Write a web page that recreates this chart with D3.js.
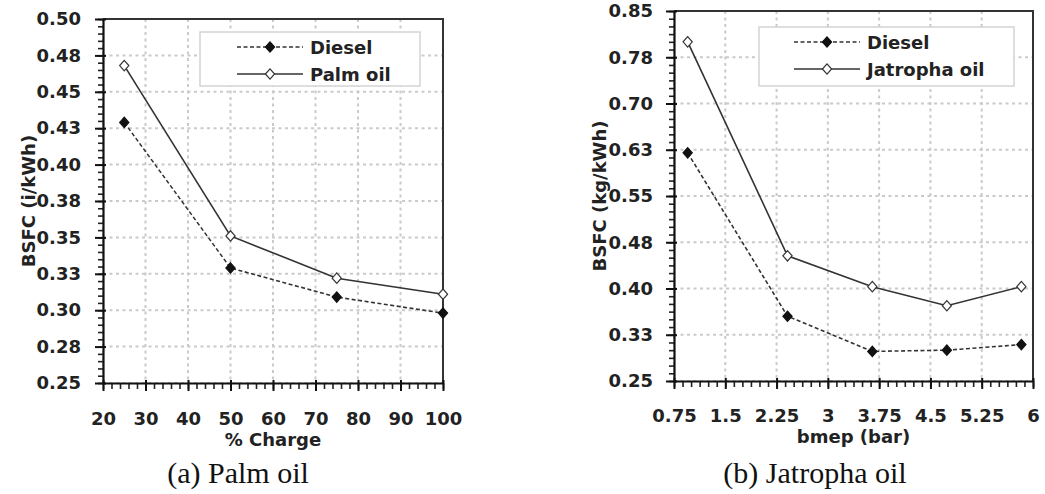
<!DOCTYPE html>
<html>
<head>
<meta charset="utf-8">
<script src="https://cdn.jsdelivr.net/npm/d3@7"></script>
<style>
  html, body { margin: 0; padding: 0; background: #fff; }
  svg { display: block; }
  .tick text { font-family: "DejaVu Sans", sans-serif; font-weight: bold; font-size: 18px; fill: #222; }
</style>
</head>
<body>
<svg id="chart" width="1045" height="494"></svg>
<script>
// ---------- Data ----------
const palmLoad = [25, 50, 75, 100];
const palmDieselBSFC = [0.429, 0.329, 0.309, 0.298];
const palmOilBSFC = [0.468, 0.351, 0.322, 0.311];

const jatBmep = [0.95, 2.41, 3.65, 4.74, 5.83];
const jatDieselBSFC = [0.620, 0.355, 0.298, 0.300, 0.309];
const jatOilBSFC = [0.800, 0.453, 0.403, 0.372, 0.403];

const palmXTicks = [20, 30, 40, 50, 60, 70, 80, 90, 100];
const palmYTicks = [0.25, 0.275, 0.30, 0.325, 0.35, 0.375, 0.40, 0.425, 0.45, 0.475, 0.50];
const palmYLabels = ["0.25", "0.28", "0.30", "0.33", "0.35", "0.38", "0.40", "0.43", "0.45", "0.48", "0.50"];

const jatXTicks = [0.75, 1.5, 2.25, 3, 3.75, 4.5, 5.25, 6];
const jatXLabels = ["0.75", "1.5", "2.25", "3", "3.75", "4.5", "5.25", "6"];
const jatYTicks = [0.25, 0.325, 0.40, 0.475, 0.55, 0.625, 0.70, 0.775, 0.85];
const jatYLabels = ["0.25", "0.33", "0.40", "0.48", "0.55", "0.63", "0.70", "0.78", "0.85"];

const svg = d3.select("#chart");
const FONT = "DejaVu Sans, sans-serif";

function diamond(g, cx, cy, filled) {
  g.append("path")
    .attr("d", "M0,-5.2L4.6,0L0,5.2L-4.6,0Z")
    .attr("transform", `translate(${cx},${cy})`)
    .attr("fill", filled ? "#111" : "#fff")
    .attr("stroke", filled ? "#111" : "#333")
    .attr("stroke-width", 1.2);
}

function drawPanel(cfg) {
  const { x0, x1, y0, y1 } = cfg;
  const x = d3.scaleLinear().domain(cfg.xDomain).range([x0, x1]);
  const y = d3.scaleLinear().domain(cfg.yDomain).range([y1, y0]);
  const g = svg.append("g");

  // grid
  const grid = g.append("g")
    .attr("stroke", "#cacaca").attr("stroke-width", 2).attr("stroke-dasharray", "3,3.5");
  cfg.yTicks.forEach(v => grid.append("line")
    .attr("x1", x0).attr("x2", x1).attr("y1", y(v)).attr("y2", y(v)));
  cfg.xTicks.forEach(v => grid.append("line")
    .attr("x1", x(v)).attr("x2", x(v)).attr("y1", y0).attr("y2", y1));

  // border top/right
  g.append("path")
    .attr("d", `M${x0},${y0}H${x1}V${y1}`)
    .attr("fill", "none").attr("stroke", "#333").attr("stroke-width", 2);

  // minor ticks
  g.append("g").attr("transform", `translate(${x0},0)`)
    .call(d3.axisLeft(y).tickValues(cfg.yMinor).tickSize(5).tickFormat(""))
    .call(s => s.select(".domain").remove())
    .selectAll("line").attr("stroke", "#222").attr("stroke-width", 1.6);
  g.append("g").attr("transform", `translate(0,${y1})`)
    .call(d3.axisBottom(x).tickValues(cfg.xMinor).tickSize(6).tickFormat(""))
    .call(s => s.select(".domain").remove())
    .selectAll("line").attr("stroke", "#222").attr("stroke-width", 1.6);

  // major y axis
  const ya = g.append("g").attr("transform", `translate(${x0},0)`)
    .call(d3.axisLeft(y).tickValues(cfg.yTicks).tickSizeInner(8).tickSizeOuter(0)
      .tickPadding(cfg.yPad).tickFormat((d, i) => cfg.yLabels[i]));
  ya.select(".domain").attr("stroke", "#111").attr("stroke-width", 2.2);
  ya.selectAll(".tick line").attr("x1", 3).attr("stroke", "#111").attr("stroke-width", 2);
  ya.selectAll(".tick text").attr("font-family", FONT);

  // major x axis
  const xa = g.append("g").attr("transform", `translate(0,${y1})`)
    .call(d3.axisBottom(x).tickValues(cfg.xTicks).tickSizeInner(8).tickSizeOuter(0)
      .tickPadding(cfg.xPad).tickFormat((d, i) => cfg.xLabels[i]));
  xa.select(".domain").attr("stroke", "#111").attr("stroke-width", 2.2);
  xa.selectAll(".tick line").attr("y1", -3).attr("stroke", "#111").attr("stroke-width", 2);

  // series
  const line = d3.line().x(d => x(d[0])).y(d => y(d[1]));
  const dieselPts = cfg.xs.map((v, i) => [v, cfg.diesel[i]]);
  const oilPts = cfg.xs.map((v, i) => [v, cfg.oil[i]]);
  g.append("path").datum(oilPts).attr("d", line)
    .attr("fill", "none").attr("stroke", "#333").attr("stroke-width", 1.6);
  g.append("path").datum(dieselPts).attr("d", line)
    .attr("fill", "none").attr("stroke", "#333").attr("stroke-width", 1.6)
    .attr("stroke-dasharray", "4,2.5");
  oilPts.forEach(p => diamond(g, x(p[0]), y(p[1]), false));
  dieselPts.forEach(p => diamond(g, x(p[0]), y(p[1]), true));

  // legend
  const L = cfg.legend;
  g.append("rect").attr("x", L.x).attr("y", L.y).attr("width", L.w).attr("height", L.h)
    .attr("fill", "#fff").attr("stroke", "#d4d4d4").attr("stroke-width", 1.5);
  const rows = [
    { name: "Diesel", dash: "4,2.5", filled: true, cy: L.y + 15 },
    { name: cfg.oilName, dash: null, filled: false, cy: L.y + 42 }
  ];
  rows.forEach(r => {
    g.append("line").attr("x1", L.lx1).attr("x2", L.lx2).attr("y1", r.cy).attr("y2", r.cy)
      .attr("stroke", "#333").attr("stroke-width", 1.6)
      .attr("stroke-dasharray", r.dash);
    diamond(g, (L.lx1 + L.lx2) / 2, r.cy, r.filled);
    g.append("text").attr("x", L.tx).attr("y", r.cy + 6.5)
      .attr("font-family", FONT).attr("font-weight", "bold").attr("font-size", 18)
      .attr("fill", "#222").text(r.name);
  });

  // axis titles
  g.append("text").attr("x", (x0 + x1) / 2).attr("y", cfg.xTitleY)
    .attr("text-anchor", "middle").attr("font-family", FONT).attr("font-weight", "bold")
    .attr("font-size", 18).attr("fill", "#222").text(cfg.xTitle);
  g.append("text").attr("transform", `translate(${cfg.yTitleX},${(y0 + y1) / 2}) rotate(-90)`)
    .attr("text-anchor", "middle").attr("font-family", FONT).attr("font-weight", "bold")
    .attr("font-size", 18).attr("fill", "#222").text(cfg.yTitle);

  // caption
  g.append("text").attr("x", cfg.capX).attr("y", 483)
    .attr("text-anchor", "middle").attr("font-family", "Liberation Serif, Times New Roman, serif")
    .attr("font-size", 30).attr("fill", "#111").text(cfg.caption);
}

drawPanel({
  x0: 103, x1: 443, y0: 19, y1: 383,
  xDomain: [20, 100], yDomain: [0.25, 0.50],
  xTicks: palmXTicks, xLabels: palmXTicks.map(String),
  yTicks: palmYTicks, yLabels: palmYLabels,
  xMinor: d3.range(20, 100.001, 2), yMinor: d3.range(0, 51).map(i => 0.25 + i * 0.005),
  yPad: 14, xPad: 21,
  xs: palmLoad, diesel: palmDieselBSFC, oil: palmOilBSFC, oilName: "Palm oil",
  legend: { x: 200, y: 32, w: 220, h: 54, lx1: 237, lx2: 303, tx: 310 },
  xTitle: "% Charge", xTitleY: 446, yTitle: "BSFC (i/kWh)", yTitleX: 35,
  caption: "(a) Palm oil", capX: 238
});

drawPanel({
  x0: 674, x1: 1033, y0: 11, y1: 381,
  xDomain: [0.75, 6], yDomain: [0.25, 0.85],
  xTicks: jatXTicks, xLabels: jatXLabels,
  yTicks: jatYTicks, yLabels: jatYLabels,
  xMinor: d3.range(0, 43).map(i => 0.75 + i * 0.125), yMinor: d3.range(0, 49).map(i => 0.25 + i * 0.0125),
  yPad: 13, xPad: 20,
  xs: jatBmep, diesel: jatDieselBSFC, oil: jatOilBSFC, oilName: "Jatropha oil",
  legend: { x: 759, y: 27, w: 255, h: 59, lx1: 794, lx2: 860, tx: 867 },
  xTitle: "bmep (bar)", xTitleY: 443, yTitle: "BSFC (kg/kWh)", yTitleX: 606,
  caption: "(b) Jatropha oil", capX: 815
});
</script>
</body>
</html>
